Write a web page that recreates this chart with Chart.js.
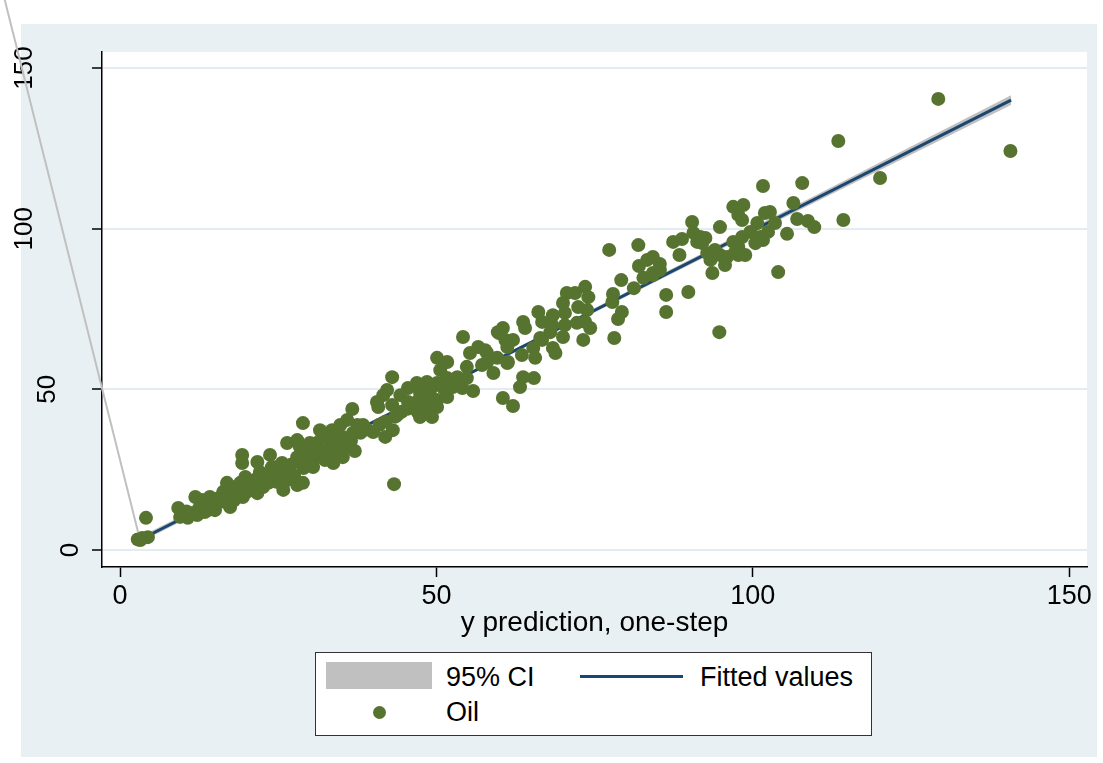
<!DOCTYPE html>
<html>
<head>
<meta charset="utf-8">
<script src="https://cdn.jsdelivr.net/npm/chart.js@4.4.1/dist/chart.umd.min.js"></script>
<style>
  body { margin: 0; background: #ffffff; }
  #wrap { position: relative; width: 1103px; height: 763px; }
  #legend {
    position: absolute; left: 315px; top: 652px; width: 555px; height: 82px;
    background: #ffffff; border: 1.5px solid #333333;
    font-family: "Liberation Sans", Arial, sans-serif; font-size: 27px; color: #000;
  }
  #legend .sw { position: absolute; }
  #legend .lbl { position: absolute; line-height: 30px; white-space: nowrap; }
</style>
</head>
<body>
<div id="wrap">
  <canvas id="this-graph" width="1103" height="763"></canvas>
  <div id="legend">
    <div class="sw" style="left:10px;top:9px;width:106px;height:27px;background:#c0c0c0;"></div>
    <div class="lbl" style="left:130px;top:9px;">95% CI</div>
    <div class="sw" style="left:264px;top:22px;width:103px;height:3px;background:#1a476f;"></div>
    <div class="lbl" style="left:384px;top:9px;">Fitted values</div>
    <div class="sw" style="left:57px;top:53px;width:13px;height:13px;border-radius:50%;background:#56742f;"></div>
    <div class="lbl" style="left:130px;top:44px;">Oil</div>
  </div>
</div>
<script>
var FONT = '"Liberation Sans", Arial, sans-serif'

var xTicks = [0, 50, 100, 150]
var yTicks = [0, 50, 100, 150]

// scatter: Oil vs one-step prediction
var oilX = [
  3.2, 3.5, 4.4, 2.8, 4.1,
  9.2, 9.5, 10.7, 12.2, 11.9, 13.0, 14.2, 13.4, 15.0, 15.5, 16.3, 16.9, 17.4, 17.4, 18.5,
  19.0, 19.8, 19.4, 20.5, 21.3, 22.1, 21.7, 22.6, 23.2, 24.0, 23.7, 19.3, 19.3, 21.7, 24.8,
  25.8, 26.4, 26.9, 25.6, 26.4, 28.0, 28.0, 28.9, 28.9, 28.0, 29.6, 30.5, 31.1, 32.1, 32.4,
  10.5, 11.0, 12.5, 14.0, 15.5, 16.5, 18.0, 18.0, 20.0, 21.0, 22.0, 23.5, 24.5, 25.0, 26.0,
  27.0, 27.5, 29.0, 30.0, 31.0, 33.0, 34.5, 35.5, 36.5, 38.0, 39.0, 41.0, 42.0, 43.5, 44.5,
  45.5, 46.5, 47.0,
  54.2, 59.9, 61.2, 62.1, 56.6, 55.3, 58.0, 59.6, 61.2, 54.8, 57.2, 59.0, 50.1, 51.7, 50.6,
  53.3, 54.8, 51.7, 48.5, 46.9, 50.1, 45.5, 44.3, 47.4, 49.0, 51.1, 52.6, 54.1, 55.8, 51.7,
  50.1, 48.5, 46.9, 45.5, 48.2, 50.1, 47.4, 49.3, 60.5, 62.1, 43.0, 42.2, 41.6, 40.6, 40.8,
  43.0, 43.8, 43.1, 41.9, 36.7, 40.0, 38.4, 37.5, 35.9, 34.8, 36.8, 35.2, 37.1, 31.6, 33.5,
  33.7, 31.9, 30.0, 28.9, 28.4, 30.3, 32.1, 34.0, 35.2, 33.7, 32.4, 29.2, 30.5, 43.3,
  63.2, 63.7, 65.4, 78.1, 86.3, 86.3, 89.8, 79.2, 82.0, 81.2, 77.9, 77.8, 79.3, 78.7, 73.2,
  74.3, 73.5, 72.2, 72.4, 73.8, 73.5, 74.0, 70.6, 71.9, 70.0, 70.3, 70.3, 70.0, 68.4, 68.3,
  66.1, 66.7, 68.0, 66.7, 68.4, 68.8, 65.6, 63.7, 64.0, 60.5, 59.7, 60.9, 61.2, 63.5, 61.3,
  57.7, 58.0, 65.3, 66.4, 85.3, 84.2, 82.7, 83.3, 77.3, 81.9,
  101.6, 107.8, 106.4, 96.9, 98.5, 101.9, 102.7, 97.7, 98.3, 90.4, 94.8, 100.7, 103.5, 107.0,
  108.7, 109.7, 114.3, 105.4, 102.4, 101.2, 99.6, 98.3, 96.9, 100.4, 101.6, 90.6, 91.7, 92.5,
  91.2, 88.8, 87.4, 92.0, 97.7, 97.2, 98.8, 97.7, 92.8, 94.0, 94.8, 95.9, 93.3, 95.6, 93.6,
  88.4, 84.2, 85.3, 84.2, 104.0, 94.7, 120.1, 129.3, 140.7, 113.5
]
var oilY = [
  3.1, 3.7, 4.0, 3.3, 10.0,
  13.1, 10.3, 10.0, 10.9, 16.5, 15.6, 16.5, 11.8, 12.4, 14.9, 18.1, 20.9, 13.4, 16.5, 18.7,
  20.9, 22.7, 16.5, 19.3, 21.8, 24.3, 17.7, 19.6, 22.7, 25.8, 29.6, 29.6, 27.1, 27.4, 21.2,
  18.7, 21.8, 24.3, 27.1, 33.3, 34.2, 28.9, 27.1, 20.9, 20.2, 31.1, 28.0, 33.3, 35.8, 30.2,
  12.0, 11.5, 13.0, 12.5, 16.0, 15.0, 15.5, 19.5, 18.0, 20.5, 23.0, 21.0, 23.5, 26.0, 24.5,
  26.5, 23.0, 25.5, 30.0, 29.0, 31.5, 33.0, 32.0, 34.0, 36.5, 37.5, 39.0, 40.0, 41.5, 43.0,
  44.0, 45.0, 43.0,
  66.3, 67.5, 64.4, 65.4, 63.2, 61.3, 61.3, 59.8, 58.2, 57.0, 57.6, 55.1, 59.8, 58.5, 56.0,
  53.8, 53.5, 53.5, 52.3, 52.0, 52.0, 50.4, 48.2, 48.9, 49.8, 50.4, 50.7, 50.4, 49.5, 47.6,
  46.7, 46.7, 46.1, 46.1, 44.2, 44.5, 41.4, 41.4, 47.3, 44.8, 53.8, 49.8, 48.2, 46.1, 44.5,
  45.1, 42.0, 37.3, 35.2, 43.9, 36.7, 38.9, 38.9, 40.5, 38.9, 36.4, 35.2, 30.8, 37.3, 37.3,
  34.2, 34.9, 33.3, 39.5, 32.1, 30.2, 30.5, 30.2, 28.9, 27.1, 28.0, 27.1, 25.8, 20.5,
  50.7, 53.8, 53.5, 66.0, 79.4, 74.1, 80.3, 84.0, 88.4, 81.5, 79.7, 77.2, 74.1, 71.9, 65.4,
  69.1, 71.0, 70.7, 75.6, 74.7, 81.9, 78.7, 80.0, 80.0, 76.9, 73.8, 70.0, 66.3, 73.1, 70.0,
  74.1, 71.0, 67.8, 65.4, 62.9, 61.3, 59.8, 71.0, 69.1, 69.1, 67.8, 65.4, 63.2, 60.7, 58.5,
  62.2, 58.5, 62.9, 66.0, 87.1, 85.6, 84.7, 90.3, 93.4, 94.9,
  113.3, 114.2, 108.0, 106.8, 107.4, 104.9, 105.2, 104.3, 102.7, 102.1, 100.5, 101.8, 101.8, 103.0,
  102.4, 100.5, 102.7, 98.4, 99.0, 97.4, 99.0, 97.4, 95.9, 95.5, 96.5, 98.7, 97.4, 97.1,
  95.9, 96.8, 95.9, 95.5, 94.3, 92.7, 91.8, 91.8, 92.4, 93.4, 91.8, 91.2, 90.3, 88.7, 86.2,
  91.8, 91.2, 89.0, 86.2, 86.5, 67.8, 115.8, 140.4, 124.2, 127.3
]

// linear fit and its 95% band
var fitX = [3.3, 140.8]
var fitY = [3.35, 140.0]
var ciX = [3.3, 25, 45, 70, 100, 140.8]
var ciLow = [2.45, 24.32, 44.3, 69.05, 98.57, 138.5]
var ciHigh = [4.25, 25.52, 45.3, 70.25, 100.37, 141.55]

// stray edge of the CI area running off the top-left
var strayX = [2.85, -19.0]
var strayY = [5.6, 177.4]

function pts(xs, ys) {
    return xs.map(function (x, i) { return { x: x, y: ys[i] } })
}

var stataLook = {
    id: 'stataLook',
    beforeDraw(chart) {
        var ctx = chart.ctx, a = chart.chartArea
        ctx.save()
        ctx.fillStyle = '#ffffff'
        ctx.fillRect(0, 0, chart.width, chart.height)
        ctx.fillStyle = '#e8f0f3'
        ctx.fillRect(21, 24, 1076, 733)
        ctx.fillStyle = '#ffffff'
        ctx.fillRect(a.left, a.top, a.right - a.left, a.bottom - a.top)
        ctx.restore()
    },
    beforeDatasetsDraw(chart) {
        // vertical y labels, placed like Stata does
        var ctx = chart.ctx, s = chart.scales.y
        ctx.save()
        ctx.font = '26px ' + FONT
        ctx.fillStyle = '#000'
        ctx.textAlign = 'center'
        ctx.textBaseline = 'middle'
        s.ticks.forEach(function (t) {
            var lbl = String(t.value)
            var w = ctx.measureText(lbl).width
            var y = s.getPixelForValue(t.value)
            ctx.save()
            ctx.translate(93.5 - 1.59 * w, y)
            ctx.rotate(-Math.PI / 2)
            ctx.fillText(lbl, 0, 0)
            ctx.restore()
        })
        ctx.restore()
    }
}

var chart = new Chart(document.getElementById('this-graph'), {
    type: 'scatter',
    data: {
        datasets: [
            {
                label: 'Oil', data: pts(oilX, oilY), order: 0,
                backgroundColor: '#56742f', borderColor: '#56742f', borderWidth: 0,
                pointRadius: 7, pointHoverRadius: 7
            },
            {
                type: 'line', label: 'Fitted values', data: pts(fitX, fitY), order: 1,
                borderColor: '#1a476f', borderWidth: 3, pointRadius: 0, fill: false
            },
            {
                type: 'line', label: '95% CI', data: pts(ciX, ciHigh), order: 2,
                borderWidth: 0, borderColor: 'rgba(0,0,0,0)', pointRadius: 0,
                backgroundColor: '#c0c0c0', fill: '+1'
            },
            {
                type: 'line', label: 'ci low', data: pts(ciX, ciLow), order: 3,
                borderWidth: 0, borderColor: 'rgba(0,0,0,0)', pointRadius: 0, fill: false
            },
            {
                type: 'line', label: 'ci edge', data: pts(strayX, strayY), order: 4,
                borderColor: '#c0c0c0', borderWidth: 2, pointRadius: 0, fill: false, clip: false
            }
        ]
    },
    options: {
        responsive: false,
        devicePixelRatio: 1,
        animation: false,
        layout: { padding: { left: 0, top: 52, right: 16, bottom: 123 } },
        plugins: { legend: { display: false }, tooltip: { enabled: false } },
        scales: {
            x: {
                type: 'linear', min: -2.85, max: 152.8,
                afterBuildTicks: function (s) { s.ticks = xTicks.map(function (v) { return { value: v } }) },
                afterFit: function (s) { s.height = 73 },
                grid: { drawOnChartArea: false, drawTicks: true, tickLength: 10, tickColor: '#000', tickWidth: 1.5 },
                border: { color: '#000', width: 1.5 },
                ticks: { color: '#000', font: { family: FONT, size: 27 }, padding: 3, maxRotation: 0, autoSkip: false },
                title: {
                    display: true, text: 'y prediction, one-step', color: '#000',
                    font: { family: FONT, size: 28 }, padding: { top: 0, bottom: 0 }
                }
            },
            y: {
                type: 'linear', min: -5.29, max: 155.0,
                afterBuildTicks: function (s) { s.ticks = yTicks.map(function (v) { return { value: v } }) },
                afterFit: function (s) { s.width = 102 },
                grid: { color: '#e3ecf0', lineWidth: 2, drawTicks: true, tickLength: 10, tickColor: '#000', tickWidth: 1.5 },
                border: { color: '#000', width: 1.5 },
                ticks: { display: false }
            }
        }
    },
    plugins: [stataLook]
})
</script>
</body>
</html>
